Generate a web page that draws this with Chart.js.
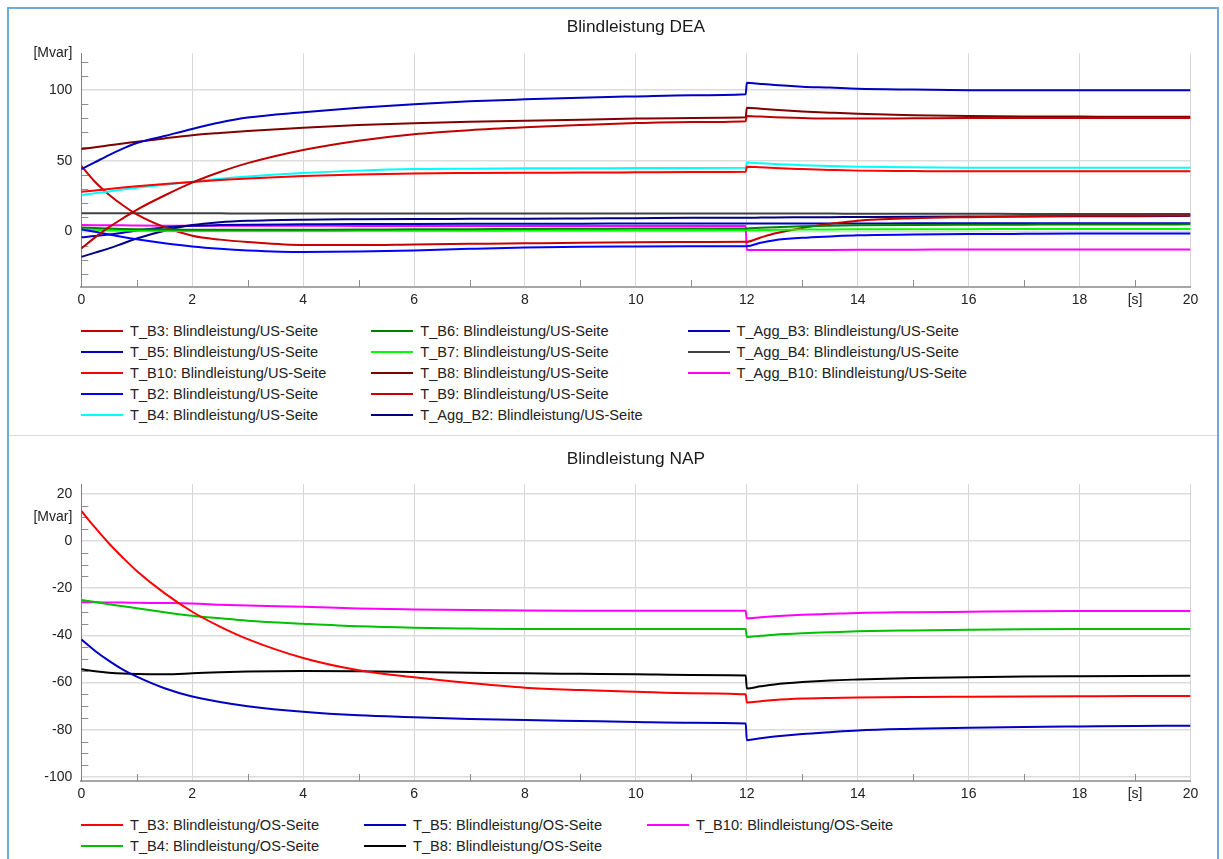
<!DOCTYPE html>
<html>
<head>
<meta charset="utf-8">
<title>Blindleistung DEA / NAP</title>
<script src="https://cdn.jsdelivr.net/npm/chart.js@4.4.1/dist/chart.umd.min.js"></script>
<style>
    body { margin: 0; background: #fff; width: 1223px; height: 859px; overflow: hidden; position: relative; font-family: 'Liberation Sans', Arial, sans-serif; }
    #frame { position: absolute; left: 7px; top: 7px; width: 1208px; height: 900px; border: 2px solid #6fa8dc; }
    #divider { position: absolute; left: 9px; top: 435px; width: 1208px; height: 1px; background: #dcdcdc; }
    canvas { position: absolute; left: 0; }
    #deaChart { top: 0; }
    #napChart { top: 436px; }
    .legend { position: absolute; left: 81px; display: grid; grid-auto-flow: column; column-gap: 45px; font-size: 14.6px; color: #222; }
    #deaLegend { top: 320.5px; grid-template-rows: repeat(5, 21px); }
    #napLegend { top: 814.5px; grid-template-rows: repeat(2, 21px); }
    .legend .item { display: flex; align-items: center; white-space: nowrap; }
    .legend .swatch { width: 42px; height: 2px; margin-right: 7px; }
</style>
</head>
<body>
<div id="frame"></div>
<div id="divider"></div>
<canvas id="deaChart" width="1223" height="320"></canvas>
<div id="deaLegend" class="legend"></div>
<canvas id="napChart" width="1223" height="378"></canvas>
<div id="napLegend" class="legend"></div>

<script>
// Time axis [s], shared by every series
const timeS = [0, 0.25, 0.5, 0.75, 1, 1.5, 2, 2.5, 3, 4, 5, 6, 7, 8, 9, 10, 11, 11.98, 12, 12.25, 12.5, 13, 13.5, 14, 15, 16, 17, 18, 19, 20];

// Blindleistung DEA, US-Seite [Mvar]
const usB3 = [-12, -4.2, 3, 9.3, 15.3, 25.4, 34.5, 42, 48.3, 57.6, 64.2, 68.8, 71.6, 73.6, 75.2, 76.6, 77.4, 78, 81.6, 81.2, 80.8, 80.2, 79.8, 79.8, 80, 80.2, 80.2, 80.2, 80.2, 80.2];
const usB5 = [44, 49, 54, 58.5, 62.5, 67.5, 72.5, 77, 80.5, 84.3, 87.5, 90, 92, 93.4, 94.6, 95.5, 96.3, 97, 105.2, 104.3, 103.5, 102.4, 101.7, 100.9, 100.3, 99.9, 99.8, 99.8, 99.8, 99.8];
const usB10 = [28, 29, 30, 31, 31.9, 33.5, 35, 36.3, 37.4, 39.2, 40.3, 41, 41.3, 41.5, 41.6, 41.8, 42, 42.2, 45.8, 45.3, 44.8, 44.1, 43.5, 43, 42.7, 42.5, 42.5, 42.5, 42.5, 42.5];
const usB2 = [1.5, -0.3, -2.2, -4, -5.6, -8.4, -10.7, -12.3, -13.4, -14.5, -14.2, -13.5, -12.3, -11.3, -10.8, -10.6, -10.5, -10.4, -10.4, -8, -6.2, -4.5, -3.5, -2.7, -2.2, -1.9, -1.7, -1.5, -1.4, -1.4];
const usB4 = [25.7, 27, 28.3, 29.6, 30.8, 33, 35.2, 37.2, 38.8, 41.3, 43, 44.1, 44.4, 44.6, 44.7, 44.8, 44.9, 45, 48.8, 48.2, 47.6, 46.8, 46.2, 45.8, 45.3, 45.1, 45, 45, 45, 45];
const usB6 = [2.8, 2.4, 2, 1.7, 1.5, 1.3, 1.2, 1.1, 1.1, 1.2, 1.3, 1.5, 1.6, 1.8, 1.9, 2, 2.1, 2.1, 2.1, 2.6, 3, 3.6, 4, 4.3, 4.6, 4.7, 4.8, 4.9, 4.9, 5];
const usB7 = [1.4, 1.1, 0.8, 0.6, 0.5, 0.4, 0.3, 0.3, 0.3, 0.3, 0.4, 0.5, 0.5, 0.6, 0.6, 0.7, 0.7, 0.8, 0.8, 1, 1.1, 1.3, 1.4, 1.5, 1.6, 1.6, 1.7, 1.7, 1.7, 1.7];
const usB8 = [58.2, 59.6, 60.9, 62.2, 63.4, 65.8, 68, 69.6, 71, 73.3, 75.2, 76.5, 77.5, 78.3, 79, 79.8, 80.3, 80.7, 87.5, 86.7, 86, 84.9, 84, 83.2, 82.2, 81.6, 81.3, 81.2, 81.1, 81.1];
const usB9 = [46.4, 35, 26, 18.5, 12, 3, -3, -5.8, -7.5, -9.6, -9.6, -9.2, -8.8, -8.4, -8, -7.7, -7.5, -7.3, -7.3, -4.3, -1.5, 2.5, 5.3, 7.6, 9.3, 10.1, 10.7, 11, 11.1, 11.2];
const usAggB2 = [-18, -15, -12, -8.5, -5, 0.5, 4.5, 6.5, 7.5, 8.3, 8.6, 8.8, 8.9, 9, 9.2, 9.4, 9.6, 9.7, 9.7, 9.8, 9.9, 10, 10.1, 10.2, 10.4, 10.5, 10.6, 10.7, 10.8, 11];
const usAggB3 = [-4.2, -3.3, -2.2, -0.9, 0.6, 2.8, 4, 4.5, 4.8, 5, 5.2, 5.3, 5.4, 5.5, 5.5, 5.6, 5.6, 5.6, 5.6, 5.6, 5.6, 5.6, 5.6, 5.6, 5.7, 5.7, 5.7, 5.7, 5.7, 5.7];
const usAggB4 = [12.9, 12.9, 12.9, 12.9, 12.9, 12.9, 12.9, 12.8, 12.7, 12.7, 12.7, 12.7, 12.7, 12.7, 12.7, 12.7, 12.7, 12.7, 12.7, 12.6, 12.6, 12.6, 12.6, 12.5, 12.5, 12.5, 12.4, 12.4, 12.4, 12.4];
const usAggB10 = [4.5, 4.4, 4.3, 4.3, 4.2, 4.1, 4.1, 4, 4, 4, 3.9, 3.9, 3.9, 3.8, 3.8, 3.8, 3.8, 3.8, -13.2, -13.2, -13.2, -13.2, -13.1, -13, -12.9, -12.8, -12.8, -12.7, -12.7, -12.7];

// Blindleistung NAP, OS-Seite [Mvar]
const osB3 = [12.7, 5.6, -1.1, -7.1, -12.7, -22.1, -30, -36.3, -41.6, -49.6, -54.8, -57.8, -60.2, -62.2, -63.2, -63.9, -64.5, -65, -68.4, -67.9, -67.4, -66.8, -66.5, -66.3, -66.1, -66, -65.9, -65.8, -65.7, -65.7];
const osB4 = [-25, -25.9, -26.8, -27.7, -28.5, -30.2, -31.7, -32.8, -33.8, -35.1, -36.2, -36.8, -37.1, -37.3, -37.3, -37.3, -37.3, -37.3, -40.7, -40.2, -39.7, -39.1, -38.7, -38.3, -37.9, -37.6, -37.4, -37.3, -37.3, -37.3];
const osB5 = [-41.7, -46.6, -50.8, -54.5, -57.5, -62.4, -65.9, -68.2, -70, -72.4, -73.9, -74.7, -75.4, -75.9, -76.3, -76.7, -77, -77.3, -84.4, -83.6, -82.9, -81.8, -81, -80.3, -79.6, -79.1, -78.8, -78.6, -78.4, -78.3];
const osB8 = [-54.4, -55.2, -55.8, -56.2, -56.4, -56.5, -56.1, -55.6, -55.3, -55.1, -55.2, -55.5, -55.8, -56.1, -56.3, -56.5, -56.8, -57, -62.5, -61.6, -60.8, -59.8, -59.1, -58.7, -58.1, -57.7, -57.4, -57.3, -57.2, -57.1];
const osB10 = [-26, -26, -26.1, -26.1, -26.2, -26.3, -26.5, -27, -27.4, -27.9, -28.6, -29, -29.3, -29.5, -29.6, -29.6, -29.6, -29.6, -32.8, -32.3, -31.9, -31.3, -30.9, -30.5, -30.2, -30, -29.8, -29.7, -29.7, -29.7];

// Tick labels
const xMajorTicks = [0, 2, 4, 6, 8, 10, 12, 14, 16, 18, 20];
const xMinorTicks = [1, 3, 5, 7, 9, 11, 13, 15, 17, 19];
const xUnitAt = 19;
const xUnitLabel = '[s]';
const yUnitLabel = '[Mvar]';

const deaYRange = [-39.3, 126];
const deaYTicks = [0, 50, 100];
const deaYMinor = [-30, -20, -10, 10, 20, 30, 40, 60, 70, 80, 90, 110, 120];
const deaUnitAt = 126;

const napYRange = [-101.7, 24];
const napYTicks = [-100, -80, -60, -40, -20, 0, 20];
const napYMinor = [-95, -90, -85, -75, -70, -65, -55, -50, -45, -35, -30, -25, -15, -10, -5, 5, 10, 15];
const napUnitAt = 10;

const fontFamily = "'Liberation Sans', Arial, sans-serif";

// Series for the upper chart, in legend order (the legend fills column by column)
const deaSeries = [
    { label: 'T_B3: Blindleistung/US-Seite', values: usB3, color: '#c00000' },
    { label: 'T_B5: Blindleistung/US-Seite', values: usB5, color: '#0000c0' },
    { label: 'T_B10: Blindleistung/US-Seite', values: usB10, color: '#ff0000' },
    { label: 'T_B2: Blindleistung/US-Seite', values: usB2, color: '#0000ff' },
    { label: 'T_B4: Blindleistung/US-Seite', values: usB4, color: '#00ffff' },
    { label: 'T_B6: Blindleistung/US-Seite', values: usB6, color: '#008000' },
    { label: 'T_B7: Blindleistung/US-Seite', values: usB7, color: '#00ff00' },
    { label: 'T_B8: Blindleistung/US-Seite', values: usB8, color: '#800000' },
    { label: 'T_B9: Blindleistung/US-Seite', values: usB9, color: '#c80000' },
    { label: 'T_Agg_B2: Blindleistung/US-Seite', values: usAggB2, color: '#000080' },
    { label: 'T_Agg_B3: Blindleistung/US-Seite', values: usAggB3, color: '#0000c0' },
    { label: 'T_Agg_B4: Blindleistung/US-Seite', values: usAggB4, color: '#404040' },
    { label: 'T_Agg_B10: Blindleistung/US-Seite', values: usAggB10, color: '#ff00ff' }
];

const napSeries = [
    { label: 'T_B3: Blindleistung/OS-Seite', values: osB3, color: '#ff0000' },
    { label: 'T_B4: Blindleistung/OS-Seite', values: osB4, color: '#00c000' },
    { label: 'T_B5: Blindleistung/OS-Seite', values: osB5, color: '#0000c0' },
    { label: 'T_B8: Blindleistung/OS-Seite', values: osB8, color: '#000000' },
    { label: 'T_B10: Blindleistung/OS-Seite', values: osB10, color: '#ff00ff' }
];

// Small tick marks that point into the plot area
const minorTicks = {
    id: 'minorTicks',
    beforeDatasetsDraw(chart, args, opts) {
        const { ctx, chartArea, scales } = chart;
        ctx.save();
        ctx.strokeStyle = '#8c8c8c';
        ctx.lineWidth = 1;
        ctx.beginPath();
        opts.xValues.forEach(v => {
            const x = Math.round(scales.x.getPixelForValue(v)) + 0.5;
            ctx.moveTo(x, chartArea.bottom);
            ctx.lineTo(x, chartArea.bottom - 7);
        });
        opts.yValues.forEach(v => {
            const y = Math.round(scales.y.getPixelForValue(v)) + 0.5;
            ctx.moveTo(chartArea.left, y);
            ctx.lineTo(chartArea.left + 7, y);
        });
        ctx.stroke();
        ctx.restore();
    }
};

function buildChart(canvasId, title, series, yRange, yTicks, yMinor, unitAt, titlePad) {
    const ctx = document.getElementById(canvasId).getContext('2d');
    return new Chart(ctx, {
        type: 'line',
        data: {
            datasets: series.map(s => ({
                label: s.label,
                data: timeS.map((t, i) => ({ x: t, y: s.values[i] })),
                borderColor: s.color,
                backgroundColor: s.color,
                borderWidth: 2,
                pointRadius: 0,
                cubicInterpolationMode: 'monotone',
                fill: false
            }))
        },
        options: {
            responsive: false,
            animation: false,
            devicePixelRatio: 1,
            layout: { padding: { left: 0, right: 32.5, top: 0, bottom: 0 } },
            plugins: {
                legend: { display: false },
                tooltip: { enabled: false },
                title: {
                    display: true,
                    fullSize: false, // centre over the plot area, not the canvas
                    text: title,
                    color: '#1a1a1a',
                    font: { family: fontFamily, size: 17.3, weight: 'normal' },
                    padding: titlePad
                },
                minorTicks: { xValues: xMinorTicks, yValues: yMinor }
            },
            scales: {
                x: {
                    type: 'linear',
                    min: 0,
                    max: 20,
                    afterBuildTicks: axis => {
                        axis.ticks = xMajorTicks.concat([xUnitAt]).sort((a, b) => a - b).map(v => ({ value: v }));
                    },
                    afterFit: axis => { axis.height = 33; },
                    ticks: {
                        autoSkip: false,
                        maxRotation: 0,
                        padding: 5,
                        color: '#222',
                        font: { family: fontFamily, size: 14 },
                        callback: v => v === xUnitAt ? xUnitLabel : String(v)
                    },
                    grid: {
                        drawTicks: false,
                        tickLength: 0,
                        lineWidth: 1,
                        color: c => (c.tick && c.tick.value === xUnitAt) ? 'rgba(0,0,0,0)' : '#d6d6d6'
                    },
                    border: { color: '#a6a6a6', width: 2 }
                },
                y: {
                    type: 'linear',
                    min: yRange[0],
                    max: yRange[1],
                    afterBuildTicks: axis => {
                        axis.ticks = yTicks.concat([unitAt]).sort((a, b) => a - b).map(v => ({ value: v }));
                    },
                    afterFit: axis => { axis.width = 81.3; },
                    ticks: {
                        autoSkip: false,
                        padding: 9,
                        color: '#222',
                        font: { family: fontFamily, size: 14 },
                        callback: v => v === unitAt ? yUnitLabel : String(v)
                    },
                    grid: {
                        drawTicks: false,
                        tickLength: 0,
                        lineWidth: 1.5,
                        color: c => (c.tick && c.tick.value === unitAt) ? 'rgba(0,0,0,0)' : '#dcdcdc'
                    },
                    border: { color: '#808080', width: 1 }
                }
            }
        },
        plugins: [minorTicks]
    });
}

// HTML legend so the entries can run column by column like the original
function buildLegend(boxId, chart) {
    const box = document.getElementById(boxId);
    chart.data.datasets.forEach(ds => {
        const item = document.createElement('div');
        item.className = 'item';
        const swatch = document.createElement('span');
        swatch.className = 'swatch';
        swatch.style.background = ds.borderColor;
        const text = document.createElement('span');
        text.textContent = ds.label;
        item.appendChild(swatch);
        item.appendChild(text);
        box.appendChild(item);
    });
}

const deaChart = buildChart('deaChart', 'Blindleistung DEA', deaSeries, deaYRange, deaYTicks, deaYMinor, deaUnitAt, { top: 17, bottom: 15.5 });
const napChart = buildChart('napChart', 'Blindleistung NAP', napSeries, napYRange, napYTicks, napYMinor, napUnitAt, { top: 13, bottom: 14.5 });
buildLegend('deaLegend', deaChart);
buildLegend('napLegend', napChart);
</script>
</body>
</html>
